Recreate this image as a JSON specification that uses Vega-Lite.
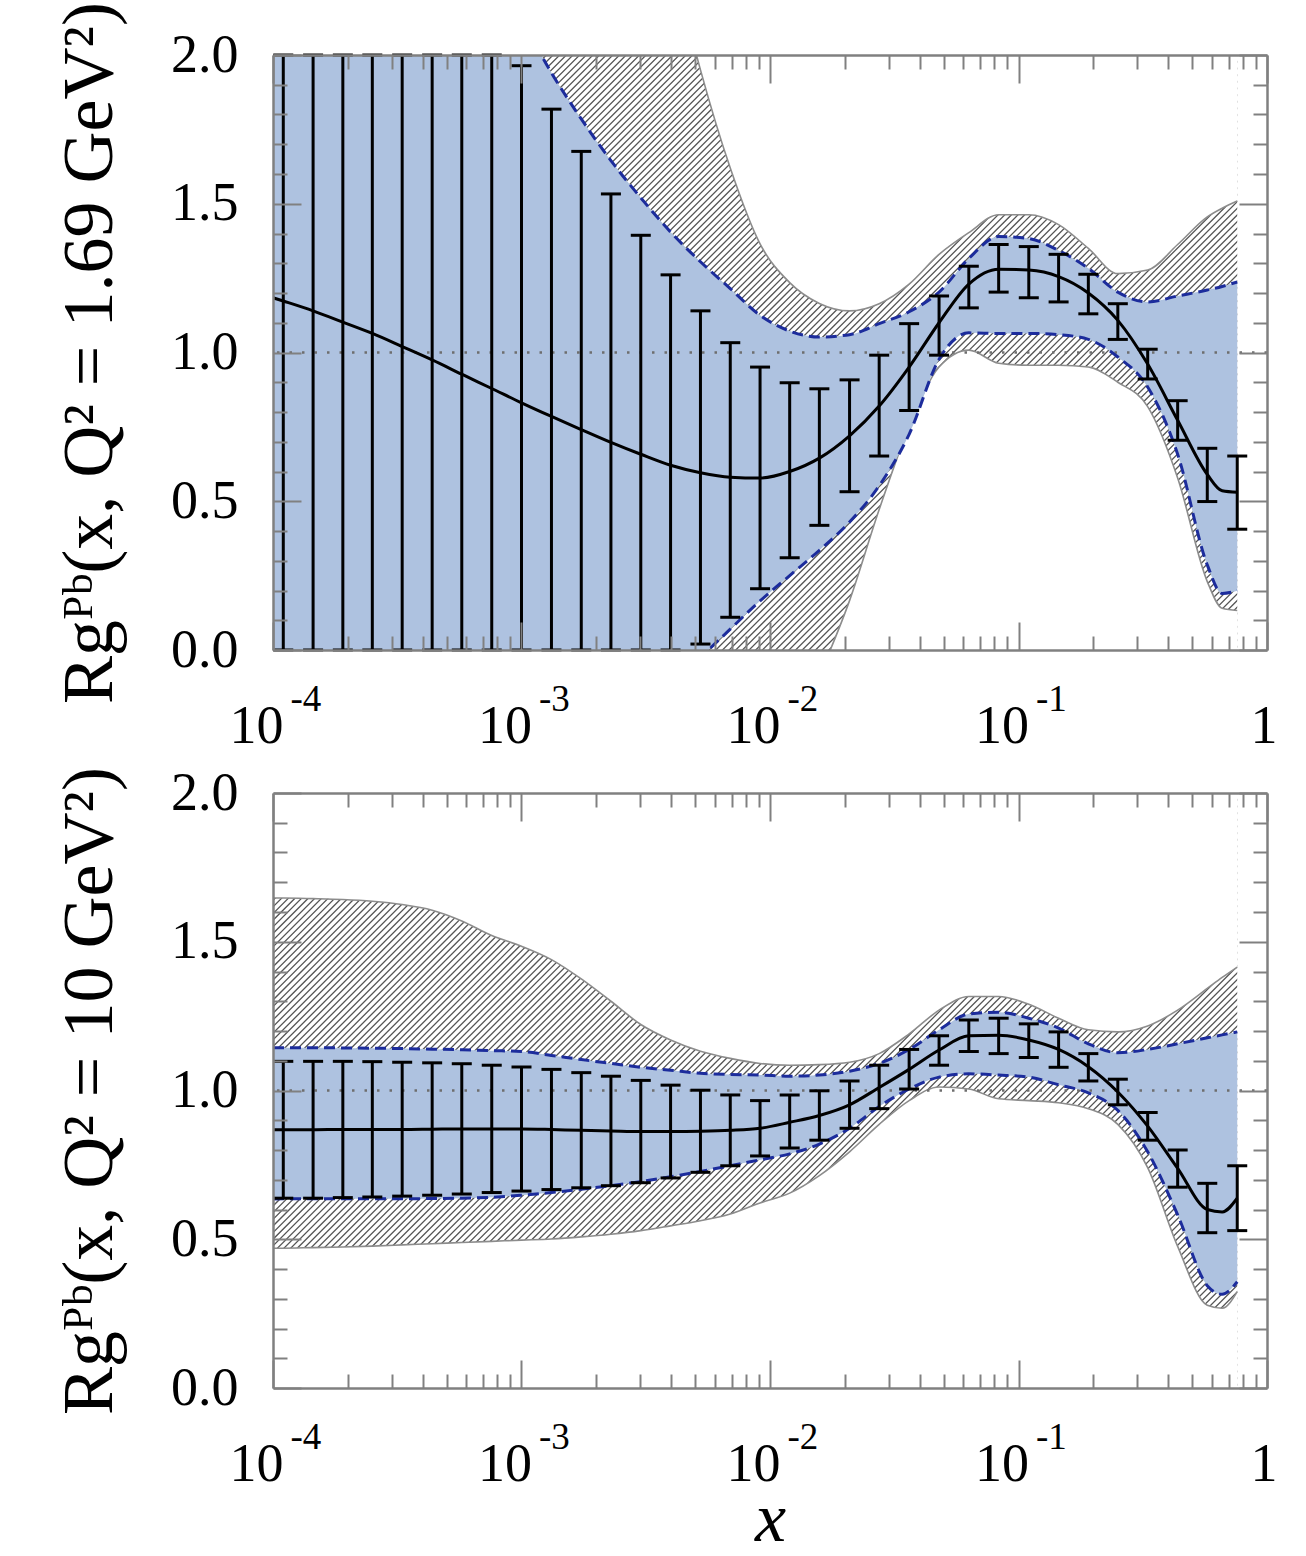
{
"$schema": "https://vega.github.io/schema/vega-lite/v6.json",
"background": "white",
"padding": {"left": 53, "top": 1, "right": 5, "bottom": 5},
"bounds": "flush",
"spacing": 143,
"config": {"view": {"stroke": null}},
"datasets": {
"one": [{"k": 1}],
"b1": [
{"x":0.0001,"c":1.184,"bu":3.7,"bl":-1.0,"gu":4.0,"gl":-1.0},
{"x":0.00011,"c":1.173,"bu":3.6,"bl":-1.0,"gu":4.0,"gl":-1.0},
{"x":0.000145,"c":1.140,"bu":3.4,"bl":-1.0,"gu":4.0,"gl":-1.0},
{"x":0.000191,"c":1.102,"bu":3.2,"bl":-1.0,"gu":4.0,"gl":-1.0},
{"x":0.000251,"c":1.064,"bu":3.0,"bl":-1.0,"gu":4.0,"gl":-1.0},
{"x":0.000331,"c":1.020,"bu":2.8,"bl":-1.0,"gu":4.0,"gl":-1.0},
{"x":0.000437,"c":0.975,"bu":2.6,"bl":-1.0,"gu":4.0,"gl":-1.0},
{"x":0.000575,"c":0.927,"bu":2.45,"bl":-1.0,"gu":4.0,"gl":-1.0},
{"x":0.000759,"c":0.879,"bu":2.28,"bl":-1.0,"gu":4.0,"gl":-1.0},
{"x":0.001,"c":0.831,"bu":2.12,"bl":-0.95,"gu":4.0,"gl":-1.0},
{"x":0.00132,"c":0.785,"bu":1.94,"bl":-0.78,"gu":4.0,"gl":-1.0},
{"x":0.00174,"c":0.741,"bu":1.785,"bl":-0.62,"gu":3.6,"gl":-1.0},
{"x":0.00229,"c":0.698,"bu":1.645,"bl":-0.46,"gu":3.2,"gl":-1.0},
{"x":0.00302,"c":0.658,"bu":1.52,"bl":-0.31,"gu":2.78,"gl":-1.0},
{"x":0.00398,"c":0.621,"bu":1.405,"bl":-0.17,"gu":2.35,"gl":-1.0},
{"x":0.00525,"c":0.596,"bu":1.305,"bl":-0.03,"gu":1.95,"gl":-1.0},
{"x":0.00692,"c":0.581,"bu":1.215,"bl":0.07,"gu":1.62,"gl":-0.85},
{"x":0.00912,"c":0.578,"bu":1.125,"bl":0.165,"gu":1.365,"gl":-0.6},
{"x":0.0120,"c":0.600,"bu":1.072,"bl":0.25,"gu":1.235,"gl":-0.34},
{"x":0.0158,"c":0.645,"bu":1.052,"bl":0.335,"gu":1.165,"gl":-0.09},
{"x":0.0209,"c":0.720,"bu":1.06,"bl":0.43,"gu":1.14,"gl":0.166},
{"x":0.0275,"c":0.820,"bu":1.097,"bl":0.552,"gu":1.164,"gl":0.472},
{"x":0.0363,"c":0.951,"bu":1.137,"bl":0.725,"gu":1.23,"gl":0.751},
{"x":0.0479,"c":1.100,"bu":1.203,"bl":0.977,"gu":1.33,"gl":0.951},
{"x":0.0631,"c":1.230,"bu":1.316,"bl":1.066,"gu":1.403,"gl":1.008},
{"x":0.0832,"c":1.280,"bu":1.390,"bl":1.064,"gu":1.463,"gl":0.964},
{"x":0.110,"c":1.277,"bu":1.383,"bl":1.064,"gu":1.463,"gl":0.957},
{"x":0.145,"c":1.255,"bu":1.343,"bl":1.060,"gu":1.430,"gl":0.957},
{"x":0.191,"c":1.200,"bu":1.283,"bl":1.044,"gu":1.350,"gl":0.951},
{"x":0.251,"c":1.108,"bu":1.203,"bl":0.985,"gu":1.265,"gl":0.900},
{"x":0.331,"c":0.961,"bu":1.170,"bl":0.884,"gu":1.277,"gl":0.818},
{"x":0.437,"c":0.772,"bu":1.190,"bl":0.658,"gu":1.363,"gl":0.578},
{"x":0.575,"c":0.590,"bu":1.210,"bl":0.286,"gu":1.456,"gl":0.230},
{"x":0.66,"c":0.535,"bu":1.222,"bl":0.190,"gu":1.485,"gl":0.140},
{"x":0.759,"c":0.530,"bu":1.237,"bl":0.199,"gu":1.509,"gl":0.133}
],
"e1": [
{"x":0.00011,"lo":0,"hi":2},
{"x":0.000145,"lo":0,"hi":2},
{"x":0.000191,"lo":0,"hi":2},
{"x":0.000251,"lo":0,"hi":2},
{"x":0.000331,"lo":0,"hi":2},
{"x":0.000437,"lo":0,"hi":2},
{"x":0.000575,"lo":0,"hi":2},
{"x":0.000759,"lo":0,"hi":2},
{"x":0.001,"lo":0,"hi":1.964},
{"x":0.00132,"lo":0,"hi":1.818},
{"x":0.00174,"lo":0,"hi":1.676},
{"x":0.00229,"lo":0,"hi":1.533},
{"x":0.00302,"lo":0,"hi":1.394},
{"x":0.00398,"lo":0,"hi":1.261},
{"x":0.00525,"lo":0.02,"hi":1.14},
{"x":0.00692,"lo":0.11,"hi":1.033},
{"x":0.00912,"lo":0.206,"hi":0.951},
{"x":0.0120,"lo":0.31,"hi":0.898},
{"x":0.0158,"lo":0.419,"hi":0.878},
{"x":0.0209,"lo":0.532,"hi":0.908},
{"x":0.0275,"lo":0.652,"hi":0.991},
{"x":0.0363,"lo":0.805,"hi":1.097},
{"x":0.0479,"lo":0.991,"hi":1.190},
{"x":0.0631,"lo":1.150,"hi":1.290},
{"x":0.0832,"lo":1.203,"hi":1.363},
{"x":0.110,"lo":1.184,"hi":1.356},
{"x":0.145,"lo":1.170,"hi":1.330},
{"x":0.191,"lo":1.130,"hi":1.263},
{"x":0.251,"lo":1.044,"hi":1.164},
{"x":0.331,"lo":0.911,"hi":1.011},
{"x":0.437,"lo":0.705,"hi":0.838},
{"x":0.575,"lo":0.499,"hi":0.678},
{"x":0.759,"lo":0.406,"hi":0.652}
],
"b2": [
{"x":0.0001,"c":0.868,"bu":1.144,"bl":0.635,"gu":1.647,"gl":0.470},
{"x":0.00011,"c":0.868,"bu":1.144,"bl":0.636,"gu":1.647,"gl":0.470},
{"x":0.000145,"c":0.868,"bu":1.144,"bl":0.636,"gu":1.645,"gl":0.472},
{"x":0.000191,"c":0.869,"bu":1.143,"bl":0.636,"gu":1.642,"gl":0.474},
{"x":0.000251,"c":0.869,"bu":1.142,"bl":0.636,"gu":1.636,"gl":0.477},
{"x":0.000331,"c":0.869,"bu":1.141,"bl":0.636,"gu":1.625,"gl":0.481},
{"x":0.000437,"c":0.870,"bu":1.139,"bl":0.637,"gu":1.606,"gl":0.485},
{"x":0.000575,"c":0.871,"bu":1.137,"bl":0.638,"gu":1.570,"gl":0.489},
{"x":0.000759,"c":0.871,"bu":1.134,"bl":0.641,"gu":1.521,"gl":0.493},
{"x":0.001,"c":0.871,"bu":1.131,"bl":0.648,"gu":1.485,"gl":0.497},
{"x":0.00132,"c":0.869,"bu":1.118,"bl":0.657,"gu":1.440,"gl":0.501},
{"x":0.00174,"c":0.866,"bu":1.104,"bl":0.668,"gu":1.375,"gl":0.508},
{"x":0.00229,"c":0.864,"bu":1.091,"bl":0.680,"gu":1.300,"gl":0.517},
{"x":0.00302,"c":0.862,"bu":1.078,"bl":0.694,"gu":1.222,"gl":0.529},
{"x":0.00398,"c":0.862,"bu":1.068,"bl":0.710,"gu":1.170,"gl":0.545},
{"x":0.00525,"c":0.863,"bu":1.058,"bl":0.728,"gu":1.132,"gl":0.562},
{"x":0.00692,"c":0.866,"bu":1.054,"bl":0.747,"gu":1.108,"gl":0.585},
{"x":0.00912,"c":0.873,"bu":1.052,"bl":0.767,"gu":1.091,"gl":0.622},
{"x":0.0120,"c":0.893,"bu":1.048,"bl":0.787,"gu":1.085,"gl":0.655},
{"x":0.0158,"c":0.916,"bu":1.052,"bl":0.820,"gu":1.087,"gl":0.714},
{"x":0.0209,"c":0.952,"bu":1.065,"bl":0.873,"gu":1.095,"gl":0.794},
{"x":0.0275,"c":1.010,"bu":1.091,"bl":0.946,"gu":1.124,"gl":0.886},
{"x":0.0363,"c":1.071,"bu":1.138,"bl":1.005,"gu":1.190,"gl":0.966},
{"x":0.0479,"c":1.136,"bu":1.204,"bl":1.045,"gu":1.270,"gl":1.012},
{"x":0.0631,"c":1.184,"bu":1.257,"bl":1.056,"gu":1.316,"gl":1.005},
{"x":0.0832,"c":1.186,"bu":1.263,"bl":1.052,"gu":1.316,"gl":0.972},
{"x":0.110,"c":1.170,"bu":1.243,"bl":1.045,"gu":1.290,"gl":0.966},
{"x":0.145,"c":1.138,"bu":1.210,"bl":1.019,"gu":1.243,"gl":0.959},
{"x":0.191,"c":1.080,"bu":1.157,"bl":0.992,"gu":1.204,"gl":0.939},
{"x":0.251,"c":0.995,"bu":1.127,"bl":0.933,"gu":1.197,"gl":0.886},
{"x":0.331,"c":0.880,"bu":1.138,"bl":0.794,"gu":1.217,"gl":0.741},
{"x":0.437,"c":0.738,"bu":1.157,"bl":0.582,"gu":1.270,"gl":0.476},
{"x":0.575,"c":0.600,"bu":1.177,"bl":0.344,"gu":1.343,"gl":0.278},
{"x":0.66,"c":0.592,"bu":1.187,"bl":0.315,"gu":1.380,"gl":0.268},
{"x":0.759,"c":0.638,"bu":1.197,"bl":0.357,"gu":1.415,"gl":0.324}
],
"e2": [
{"x":0.00011,"lo":0.638,"hi":1.098},
{"x":0.000145,"lo":0.638,"hi":1.098},
{"x":0.000191,"lo":0.640,"hi":1.098},
{"x":0.000251,"lo":0.642,"hi":1.097},
{"x":0.000331,"lo":0.645,"hi":1.095},
{"x":0.000437,"lo":0.648,"hi":1.093},
{"x":0.000575,"lo":0.652,"hi":1.090},
{"x":0.000759,"lo":0.657,"hi":1.085},
{"x":0.001,"lo":0.662,"hi":1.079},
{"x":0.00132,"lo":0.667,"hi":1.071},
{"x":0.00174,"lo":0.673,"hi":1.060},
{"x":0.00229,"lo":0.680,"hi":1.048},
{"x":0.00302,"lo":0.690,"hi":1.034},
{"x":0.00398,"lo":0.706,"hi":1.018},
{"x":0.00525,"lo":0.725,"hi":1.001},
{"x":0.00692,"lo":0.747,"hi":0.985},
{"x":0.00912,"lo":0.780,"hi":0.966},
{"x":0.0120,"lo":0.807,"hi":0.985},
{"x":0.0158,"lo":0.833,"hi":0.999},
{"x":0.0209,"lo":0.873,"hi":1.032},
{"x":0.0275,"lo":0.939,"hi":1.085},
{"x":0.0363,"lo":1.005,"hi":1.138},
{"x":0.0479,"lo":1.085,"hi":1.184},
{"x":0.0631,"lo":1.131,"hi":1.237},
{"x":0.0832,"lo":1.124,"hi":1.243},
{"x":0.110,"lo":1.111,"hi":1.224},
{"x":0.145,"lo":1.078,"hi":1.197},
{"x":0.191,"lo":1.032,"hi":1.124},
{"x":0.251,"lo":0.952,"hi":1.038},
{"x":0.331,"lo":0.833,"hi":0.926},
{"x":0.437,"lo":0.675,"hi":0.800},
{"x":0.575,"lo":0.522,"hi":0.688},
{"x":0.759,"lo":0.529,"hi":0.747}
]
},
"vconcat": [
{
"width": 994, "height": 595,
"resolve": {"axis": {"x": "independent", "y": "independent"}},
"layer": [
{"data": {"name": "one"}, "mark": {"type": "rule", "clip": true, "color": "#555555", "strokeWidth": 1600, "strokeDash": [1.3, 3.4]},
 "encoding": {
  "x": {"datum": 0.0001, "type": "quantitative", "scale": {"type": "log", "domain": [0.0001, 1], "nice": false},
   "axis": {"orient": "bottom", "values": [0.0001, 0.001, 0.01, 0.1, 1], "labelExpr": "datum.value > 0.5 ? '1' : '10'", "ticks": false, "domain": false, "grid": false, "labelFont": "Liberation Serif", "labelFontSize": 54, "labelColor": "black", "labelPadding": 92, "labelBaseline": "alphabetic", "labelAlign": "right", "labelOffset": 10, "labelFlush": false, "labelOverlap": false, "labelBound": false, "title": null, "zindex": 1}},
  "x2": {"datum": 1},
  "y": {"datum": 2, "type": "quantitative", "scale": {"domain": [0, 2], "nice": false, "zero": false},
   "axis": {"orient": "left", "values": [0, 0.5, 1, 1.5, 2], "format": ".1f", "ticks": false, "domain": false, "grid": false, "labelFont": "Liberation Serif", "labelFontSize": 54, "labelColor": "black", "labelPadding": 35, "labelFlush": false, "labelOverlap": false, "labelBound": false, "title": "Rgᴾᵇ(x, Q² = 1.69 GeV²)", "titleFont": "Liberation Serif", "titleFontSize": 72, "titleFontWeight": "normal", "titleColor": "black", "titlePadding": 44, "zindex": 1}},
  "y2": {"datum": -1.3412}
 }},
{"data": {"name": "b1"}, "mark": {"type": "area", "clip": true, "interpolate": "monotone", "color": "white", "opacity": 1},
 "encoding": {
  "x": {"field": "x", "type": "quantitative", "scale": {"type": "log", "domain": [0.0001, 1], "nice": false},
   "axis": {"orient": "bottom", "values": [0.0001, 0.001, 0.01, 0.1], "labelExpr": "'-' + round(-log(datum.value)/LN10)", "ticks": false, "domain": false, "grid": false, "labelFont": "Liberation Serif", "labelFontSize": 37, "labelColor": "black", "labelPadding": 60, "labelBaseline": "alphabetic", "labelAlign": "left", "labelOffset": 17, "labelFlush": false, "labelOverlap": false, "labelBound": false, "title": null, "zindex": 1}},
  "y": {"field": "gu", "type": "quantitative", "scale": {"domain": [0, 2], "nice": false, "zero": false},
   "axis": {"orient": "left", "values": [0, 0.5, 1, 1.5, 2], "labels": false, "tickSize": -28, "tickColor": "#808080", "tickWidth": 2, "domain": true, "domainColor": "#808080", "domainWidth": 2.5, "grid": false, "title": null, "zindex": 1}},
  "y2": {"datum": 2}
 }},
{"data": {"name": "b1"}, "mark": {"type": "area", "clip": true, "interpolate": "monotone", "color": "white", "opacity": 1},
 "encoding": {
  "x": {"field": "x", "type": "quantitative", "scale": {"type": "log", "domain": [0.0001, 1], "nice": false},
   "axis": {"orient": "bottom", "values": [0.0001, 0.001, 0.01, 0.1, 1], "labels": false, "tickSize": -28, "tickColor": "#808080", "tickWidth": 2, "domain": true, "domainColor": "#808080", "domainWidth": 2.5, "grid": false, "title": null, "zindex": 1}},
  "y": {"field": "gl", "type": "quantitative", "scale": {"domain": [0, 2], "nice": false, "zero": false},
   "axis": {"orient": "left", "values": [0.1,0.2,0.3,0.4,0.6,0.7,0.8,0.9,1.1,1.2,1.3,1.4,1.6,1.7,1.8,1.9], "labels": false, "tickSize": -14, "tickColor": "#808080", "tickWidth": 2, "domain": false, "grid": false, "title": null, "zindex": 1}},
  "y2": {"datum": 0}
 }},
{"data": {"name": "one"}, "mark": {"type": "rect", "clip": true, "color": "white", "opacity": 1},
 "encoding": {
  "x": {"datum": 0.759, "type": "quantitative", "scale": {"type": "log", "domain": [0.0001, 1], "nice": false},
   "axis": {"orient": "bottom", "values": [0.0002,0.0003,0.0004,0.0005,0.0006,0.0007,0.0008,0.0009,0.002,0.003,0.004,0.005,0.006,0.007,0.008,0.009,0.02,0.03,0.04,0.05,0.06,0.07,0.08,0.09,0.2,0.3,0.4,0.5,0.6,0.7,0.8,0.9], "labels": false, "tickSize": -14, "tickColor": "#808080", "tickWidth": 2, "domain": false, "grid": false, "title": null, "zindex": 1}},
  "x2": {"datum": 1},
  "y": {"datum": 0, "type": "quantitative", "scale": {"domain": [0, 2], "nice": false, "zero": false},
   "axis": {"orient": "right", "values": [0, 0.5, 1, 1.5, 2], "labels": false, "tickSize": -28, "tickColor": "#808080", "tickWidth": 2, "domain": true, "domainColor": "#808080", "domainWidth": 2.5, "grid": false, "title": null, "zindex": 1}},
  "y2": {"datum": 2}
 }},
{"data": {"name": "b1"}, "mark": {"type": "line", "clip": true, "interpolate": "monotone", "color": "#8c8c8c", "strokeWidth": 1.6},
 "encoding": {
  "x": {"field": "x", "type": "quantitative", "scale": {"type": "log", "domain": [0.0001, 1], "nice": false},
   "axis": {"orient": "top", "values": [0.0001, 0.001, 0.01, 0.1, 1], "labels": false, "tickSize": -28, "tickColor": "#808080", "tickWidth": 2, "domain": true, "domainColor": "#808080", "domainWidth": 2.5, "grid": false, "title": null, "zindex": 1}},
  "y": {"field": "gu", "type": "quantitative", "scale": {"domain": [0, 2], "nice": false, "zero": false},
   "axis": {"orient": "right", "values": [0.1,0.2,0.3,0.4,0.6,0.7,0.8,0.9,1.1,1.2,1.3,1.4,1.6,1.7,1.8,1.9], "labels": false, "tickSize": -14, "tickColor": "#808080", "tickWidth": 2, "domain": false, "grid": false, "title": null, "zindex": 1}}
 }},
{"data": {"name": "b1"}, "mark": {"type": "line", "clip": true, "interpolate": "monotone", "color": "#8c8c8c", "strokeWidth": 1.6},
 "encoding": {
  "x": {"field": "x", "type": "quantitative", "scale": {"type": "log", "domain": [0.0001, 1], "nice": false},
   "axis": {"orient": "top", "values": [0.0002,0.0003,0.0004,0.0005,0.0006,0.0007,0.0008,0.0009,0.002,0.003,0.004,0.005,0.006,0.007,0.008,0.009,0.02,0.03,0.04,0.05,0.06,0.07,0.08,0.09,0.2,0.3,0.4,0.5,0.6,0.7,0.8,0.9], "labels": false, "tickSize": -14, "tickColor": "#808080", "tickWidth": 2, "domain": false, "grid": false, "title": null, "zindex": 1}},
  "y": {"field": "gl", "type": "quantitative", "scale": {"domain": [0, 2], "nice": false, "zero": false}, "axis": null}
 }},
{"data": {"name": "b1"}, "mark": {"type": "area", "clip": true, "interpolate": "monotone", "color": "#aec2e0", "opacity": 1},
 "encoding": {
  "x": {"field": "x", "type": "quantitative", "scale": {"type": "log", "domain": [0.0001, 1], "nice": false}, "axis": null},
  "y": {"field": "bu", "type": "quantitative", "scale": {"domain": [0, 2], "nice": false, "zero": false}, "axis": null},
  "y2": {"field": "bl"}
 }},
{"data": {"name": "one"}, "mark": {"type": "rule", "clip": true, "color": "#6e6e6e", "strokeWidth": 2.5, "strokeDash": [2.5, 10]},
 "encoding": {
  "y": {"datum": 1, "type": "quantitative", "scale": {"domain": [0, 2], "nice": false, "zero": false}, "axis": null}
 }},
{"data": {"name": "b1"}, "mark": {"type": "line", "clip": true, "interpolate": "monotone", "color": "#1c2c9c", "strokeWidth": 3, "strokeDash": [11, 6]},
 "encoding": {
  "x": {"field": "x", "type": "quantitative", "scale": {"type": "log", "domain": [0.0001, 1], "nice": false}, "axis": null},
  "y": {"field": "bu", "type": "quantitative", "scale": {"domain": [0, 2], "nice": false, "zero": false}, "axis": null}
 }},
{"data": {"name": "b1"}, "mark": {"type": "line", "clip": true, "interpolate": "monotone", "color": "#1c2c9c", "strokeWidth": 3, "strokeDash": [11, 6]},
 "encoding": {
  "x": {"field": "x", "type": "quantitative", "scale": {"type": "log", "domain": [0.0001, 1], "nice": false}, "axis": null},
  "y": {"field": "bl", "type": "quantitative", "scale": {"domain": [0, 2], "nice": false, "zero": false}, "axis": null}
 }},
{"data": {"name": "e1"}, "mark": {"type": "rule", "clip": true, "color": "black", "strokeWidth": 3},
 "encoding": {
  "x": {"field": "x", "type": "quantitative", "scale": {"type": "log", "domain": [0.0001, 1], "nice": false}, "axis": null},
  "y": {"field": "lo", "type": "quantitative", "scale": {"domain": [0, 2], "nice": false, "zero": false}, "axis": null},
  "y2": {"field": "hi"}
 }},
{"data": {"name": "e1"}, "mark": {"type": "tick", "orient": "horizontal", "size": 20, "thickness": 3, "color": "black", "opacity": 1},
 "encoding": {
  "x": {"field": "x", "type": "quantitative", "scale": {"type": "log", "domain": [0.0001, 1], "nice": false}, "axis": null},
  "y": {"field": "hi", "type": "quantitative", "scale": {"domain": [0, 2], "nice": false, "zero": false}, "axis": null}
 }},
{"data": {"name": "e1"}, "mark": {"type": "tick", "orient": "horizontal", "size": 20, "thickness": 3, "color": "black", "opacity": 1},
 "encoding": {
  "x": {"field": "x", "type": "quantitative", "scale": {"type": "log", "domain": [0.0001, 1], "nice": false}, "axis": null},
  "y": {"field": "lo", "type": "quantitative", "scale": {"domain": [0, 2], "nice": false, "zero": false}, "axis": null}
 }},
{"data": {"name": "b1"}, "mark": {"type": "line", "clip": true, "interpolate": "monotone", "color": "black", "strokeWidth": 3},
 "encoding": {
  "x": {"field": "x", "type": "quantitative", "scale": {"type": "log", "domain": [0.0001, 1], "nice": false}, "axis": null},
  "y": {"field": "c", "type": "quantitative", "scale": {"domain": [0, 2], "nice": false, "zero": false}, "axis": null}
 }}
]
},
{
"width": 994, "height": 595,
"resolve": {"axis": {"x": "independent", "y": "independent"}},
"layer": [
{"data": {"name": "one"}, "mark": {"type": "rule", "clip": true, "color": "#555555", "strokeWidth": 1600, "strokeDash": [1.3, 3.4]},
 "encoding": {
  "x": {"datum": 0.0001, "type": "quantitative", "scale": {"type": "log", "domain": [0.0001, 1], "nice": false},
   "axis": {"orient": "bottom", "values": [0.0001, 0.001, 0.01, 0.1, 1], "labelExpr": "datum.value > 0.5 ? '1' : '10'", "ticks": false, "domain": false, "grid": false, "labelFont": "Liberation Serif", "labelFontSize": 54, "labelColor": "black", "labelPadding": 92, "labelBaseline": "alphabetic", "labelAlign": "right", "labelOffset": 10, "labelFlush": false, "labelOverlap": false, "labelBound": false, "title": "x", "titleFont": "Liberation Serif", "titleFontSize": 70, "titleFontStyle": "italic", "titleFontWeight": "normal", "titleColor": "black", "titlePadding": -6, "zindex": 1}},
  "x2": {"datum": 1},
  "y": {"datum": 2, "type": "quantitative", "scale": {"domain": [0, 2], "nice": false, "zero": false},
   "axis": {"orient": "left", "values": [0, 0.5, 1, 1.5, 2], "format": ".1f", "ticks": false, "domain": false, "grid": false, "labelFont": "Liberation Serif", "labelFontSize": 54, "labelColor": "black", "labelPadding": 35, "labelFlush": false, "labelOverlap": false, "labelBound": false, "title": "Rgᴾᵇ(x, Q² = 10 GeV²)", "titleFont": "Liberation Serif", "titleFontSize": 72, "titleFontWeight": "normal", "titleColor": "black", "titlePadding": 44, "zindex": 1}},
  "y2": {"datum": -1.3412}
 }},
{"data": {"name": "b2"}, "mark": {"type": "area", "clip": true, "interpolate": "monotone", "color": "white", "opacity": 1},
 "encoding": {
  "x": {"field": "x", "type": "quantitative", "scale": {"type": "log", "domain": [0.0001, 1], "nice": false},
   "axis": {"orient": "bottom", "values": [0.0001, 0.001, 0.01, 0.1], "labelExpr": "'-' + round(-log(datum.value)/LN10)", "ticks": false, "domain": false, "grid": false, "labelFont": "Liberation Serif", "labelFontSize": 37, "labelColor": "black", "labelPadding": 60, "labelBaseline": "alphabetic", "labelAlign": "left", "labelOffset": 17, "labelFlush": false, "labelOverlap": false, "labelBound": false, "title": null, "zindex": 1}},
  "y": {"field": "gu", "type": "quantitative", "scale": {"domain": [0, 2], "nice": false, "zero": false},
   "axis": {"orient": "left", "values": [0, 0.5, 1, 1.5, 2], "labels": false, "tickSize": -28, "tickColor": "#808080", "tickWidth": 2, "domain": true, "domainColor": "#808080", "domainWidth": 2.5, "grid": false, "title": null, "zindex": 1}},
  "y2": {"datum": 2}
 }},
{"data": {"name": "b2"}, "mark": {"type": "area", "clip": true, "interpolate": "monotone", "color": "white", "opacity": 1},
 "encoding": {
  "x": {"field": "x", "type": "quantitative", "scale": {"type": "log", "domain": [0.0001, 1], "nice": false},
   "axis": {"orient": "bottom", "values": [0.0001, 0.001, 0.01, 0.1, 1], "labels": false, "tickSize": -28, "tickColor": "#808080", "tickWidth": 2, "domain": true, "domainColor": "#808080", "domainWidth": 2.5, "grid": false, "title": null, "zindex": 1}},
  "y": {"field": "gl", "type": "quantitative", "scale": {"domain": [0, 2], "nice": false, "zero": false},
   "axis": {"orient": "left", "values": [0.1,0.2,0.3,0.4,0.6,0.7,0.8,0.9,1.1,1.2,1.3,1.4,1.6,1.7,1.8,1.9], "labels": false, "tickSize": -14, "tickColor": "#808080", "tickWidth": 2, "domain": false, "grid": false, "title": null, "zindex": 1}},
  "y2": {"datum": 0}
 }},
{"data": {"name": "one"}, "mark": {"type": "rect", "clip": true, "color": "white", "opacity": 1},
 "encoding": {
  "x": {"datum": 0.759, "type": "quantitative", "scale": {"type": "log", "domain": [0.0001, 1], "nice": false},
   "axis": {"orient": "bottom", "values": [0.0002,0.0003,0.0004,0.0005,0.0006,0.0007,0.0008,0.0009,0.002,0.003,0.004,0.005,0.006,0.007,0.008,0.009,0.02,0.03,0.04,0.05,0.06,0.07,0.08,0.09,0.2,0.3,0.4,0.5,0.6,0.7,0.8,0.9], "labels": false, "tickSize": -14, "tickColor": "#808080", "tickWidth": 2, "domain": false, "grid": false, "title": null, "zindex": 1}},
  "x2": {"datum": 1},
  "y": {"datum": 0, "type": "quantitative", "scale": {"domain": [0, 2], "nice": false, "zero": false},
   "axis": {"orient": "right", "values": [0, 0.5, 1, 1.5, 2], "labels": false, "tickSize": -28, "tickColor": "#808080", "tickWidth": 2, "domain": true, "domainColor": "#808080", "domainWidth": 2.5, "grid": false, "title": null, "zindex": 1}},
  "y2": {"datum": 2}
 }},
{"data": {"name": "b2"}, "mark": {"type": "line", "clip": true, "interpolate": "monotone", "color": "#8c8c8c", "strokeWidth": 1.6},
 "encoding": {
  "x": {"field": "x", "type": "quantitative", "scale": {"type": "log", "domain": [0.0001, 1], "nice": false},
   "axis": {"orient": "top", "values": [0.0001, 0.001, 0.01, 0.1, 1], "labels": false, "tickSize": -28, "tickColor": "#808080", "tickWidth": 2, "domain": true, "domainColor": "#808080", "domainWidth": 2.5, "grid": false, "title": null, "zindex": 1}},
  "y": {"field": "gu", "type": "quantitative", "scale": {"domain": [0, 2], "nice": false, "zero": false},
   "axis": {"orient": "right", "values": [0.1,0.2,0.3,0.4,0.6,0.7,0.8,0.9,1.1,1.2,1.3,1.4,1.6,1.7,1.8,1.9], "labels": false, "tickSize": -14, "tickColor": "#808080", "tickWidth": 2, "domain": false, "grid": false, "title": null, "zindex": 1}}
 }},
{"data": {"name": "b2"}, "mark": {"type": "line", "clip": true, "interpolate": "monotone", "color": "#8c8c8c", "strokeWidth": 1.6},
 "encoding": {
  "x": {"field": "x", "type": "quantitative", "scale": {"type": "log", "domain": [0.0001, 1], "nice": false},
   "axis": {"orient": "top", "values": [0.0002,0.0003,0.0004,0.0005,0.0006,0.0007,0.0008,0.0009,0.002,0.003,0.004,0.005,0.006,0.007,0.008,0.009,0.02,0.03,0.04,0.05,0.06,0.07,0.08,0.09,0.2,0.3,0.4,0.5,0.6,0.7,0.8,0.9], "labels": false, "tickSize": -14, "tickColor": "#808080", "tickWidth": 2, "domain": false, "grid": false, "title": null, "zindex": 1}},
  "y": {"field": "gl", "type": "quantitative", "scale": {"domain": [0, 2], "nice": false, "zero": false}, "axis": null}
 }},
{"data": {"name": "b2"}, "mark": {"type": "area", "clip": true, "interpolate": "monotone", "color": "#aec2e0", "opacity": 1},
 "encoding": {
  "x": {"field": "x", "type": "quantitative", "scale": {"type": "log", "domain": [0.0001, 1], "nice": false}, "axis": null},
  "y": {"field": "bu", "type": "quantitative", "scale": {"domain": [0, 2], "nice": false, "zero": false}, "axis": null},
  "y2": {"field": "bl"}
 }},
{"data": {"name": "one"}, "mark": {"type": "rule", "clip": true, "color": "#6e6e6e", "strokeWidth": 2.5, "strokeDash": [2.5, 10]},
 "encoding": {
  "y": {"datum": 1, "type": "quantitative", "scale": {"domain": [0, 2], "nice": false, "zero": false}, "axis": null}
 }},
{"data": {"name": "b2"}, "mark": {"type": "line", "clip": true, "interpolate": "monotone", "color": "#1c2c9c", "strokeWidth": 3, "strokeDash": [11, 6]},
 "encoding": {
  "x": {"field": "x", "type": "quantitative", "scale": {"type": "log", "domain": [0.0001, 1], "nice": false}, "axis": null},
  "y": {"field": "bu", "type": "quantitative", "scale": {"domain": [0, 2], "nice": false, "zero": false}, "axis": null}
 }},
{"data": {"name": "b2"}, "mark": {"type": "line", "clip": true, "interpolate": "monotone", "color": "#1c2c9c", "strokeWidth": 3, "strokeDash": [11, 6]},
 "encoding": {
  "x": {"field": "x", "type": "quantitative", "scale": {"type": "log", "domain": [0.0001, 1], "nice": false}, "axis": null},
  "y": {"field": "bl", "type": "quantitative", "scale": {"domain": [0, 2], "nice": false, "zero": false}, "axis": null}
 }},
{"data": {"name": "e2"}, "mark": {"type": "rule", "clip": true, "color": "black", "strokeWidth": 3},
 "encoding": {
  "x": {"field": "x", "type": "quantitative", "scale": {"type": "log", "domain": [0.0001, 1], "nice": false}, "axis": null},
  "y": {"field": "lo", "type": "quantitative", "scale": {"domain": [0, 2], "nice": false, "zero": false}, "axis": null},
  "y2": {"field": "hi"}
 }},
{"data": {"name": "e2"}, "mark": {"type": "tick", "orient": "horizontal", "size": 20, "thickness": 3, "color": "black", "opacity": 1},
 "encoding": {
  "x": {"field": "x", "type": "quantitative", "scale": {"type": "log", "domain": [0.0001, 1], "nice": false}, "axis": null},
  "y": {"field": "hi", "type": "quantitative", "scale": {"domain": [0, 2], "nice": false, "zero": false}, "axis": null}
 }},
{"data": {"name": "e2"}, "mark": {"type": "tick", "orient": "horizontal", "size": 20, "thickness": 3, "color": "black", "opacity": 1},
 "encoding": {
  "x": {"field": "x", "type": "quantitative", "scale": {"type": "log", "domain": [0.0001, 1], "nice": false}, "axis": null},
  "y": {"field": "lo", "type": "quantitative", "scale": {"domain": [0, 2], "nice": false, "zero": false}, "axis": null}
 }},
{"data": {"name": "b2"}, "mark": {"type": "line", "clip": true, "interpolate": "monotone", "color": "black", "strokeWidth": 3},
 "encoding": {
  "x": {"field": "x", "type": "quantitative", "scale": {"type": "log", "domain": [0.0001, 1], "nice": false}, "axis": null},
  "y": {"field": "c", "type": "quantitative", "scale": {"domain": [0, 2], "nice": false, "zero": false}, "axis": null}
 }}
]
}
]
}
